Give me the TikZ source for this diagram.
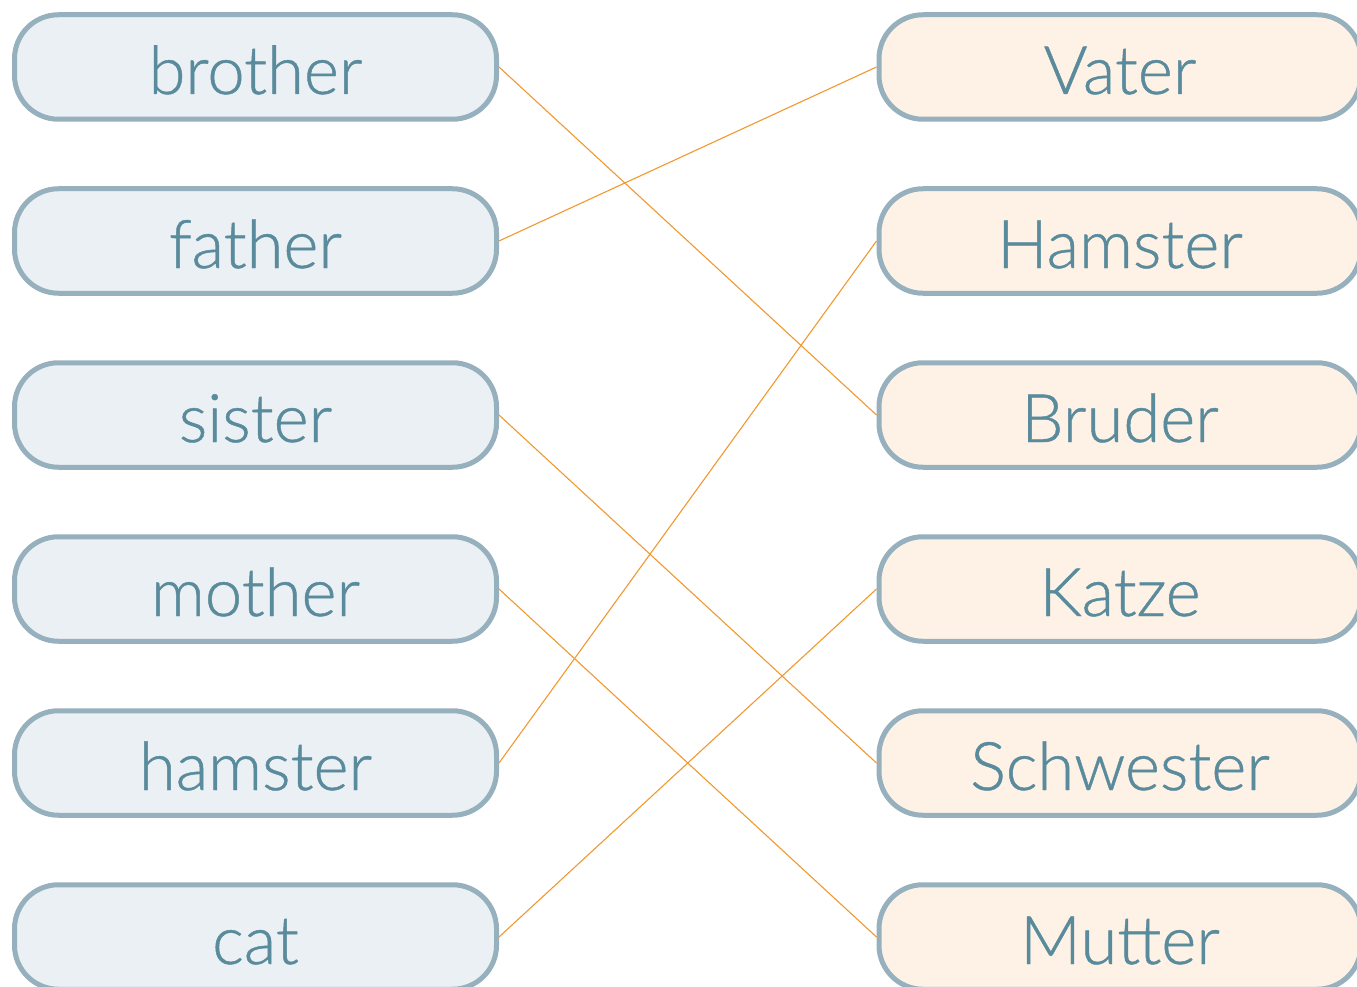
\documentclass[tikz,border=0pt]{standalone}
\usepackage{fontspec}
\IfFontExistsTF{Lato Light}{\setmainfont{Lato Light}[UprightFeatures={FakeBold=0.7}]}{\setmainfont{Lato}}
\definecolor{boxline}{RGB}{150,176,190}
\definecolor{leftfill}{RGB}{234,240,243}
\definecolor{rightfill}{RGB}{254,242,230}
\definecolor{wordcol}{RGB}{90,139,156}
\definecolor{linkcol}{RGB}{242,152,48}
\tikzset{
  wordbox/.style={draw=boxline, line width=5pt, rounded corners=44pt,
    minimum width=482pt, minimum height=104.5pt, inner sep=0pt,
    text height=54pt, text depth=0pt, text=wordcol,
    font=\fontsize{67}{80}\selectfont},
  leftbox/.style={wordbox, fill=leftfill},
  rightbox/.style={wordbox, fill=rightfill},
  link/.style={draw=linkcol, line width=1.1pt}
}
\begin{document}
\begin{tikzpicture}[x=1pt,y=-1pt]
\useasboundingbox (0,0) rectangle (1357,987);
\node[leftbox] (l1) at (255.5,67) {brother};
\node[leftbox] (l2) at (255.5,241) {father};
\node[leftbox] (l3) at (255.5,415) {sister};
\node[leftbox] (l4) at (255.5,589) {mother};
\node[leftbox] (l5) at (255.5,763) {hamster};
\node[leftbox] (l6) at (255.5,937) {cat};
\node[rightbox] (r1) at (1120,67) {Vater};
\node[rightbox] (r2) at (1120,241) {Hamster};
\node[rightbox] (r3) at (1120,415) {Bruder};
\node[rightbox] (r4) at (1120,589) {Katze};
\node[rightbox] (r5) at (1120,763) {Schwester};
\node[rightbox] (r6) at (1120,937) {Mutter};
\draw[link] (l1.east) -- (r3.west);
\draw[link] (l2.east) -- (r1.west);
\draw[link] (l3.east) -- (r5.west);
\draw[link] (l4.east) -- (r6.west);
\draw[link] (l5.east) -- (r2.west);
\draw[link] (l6.east) -- (r4.west);
\end{tikzpicture}
\end{document}
